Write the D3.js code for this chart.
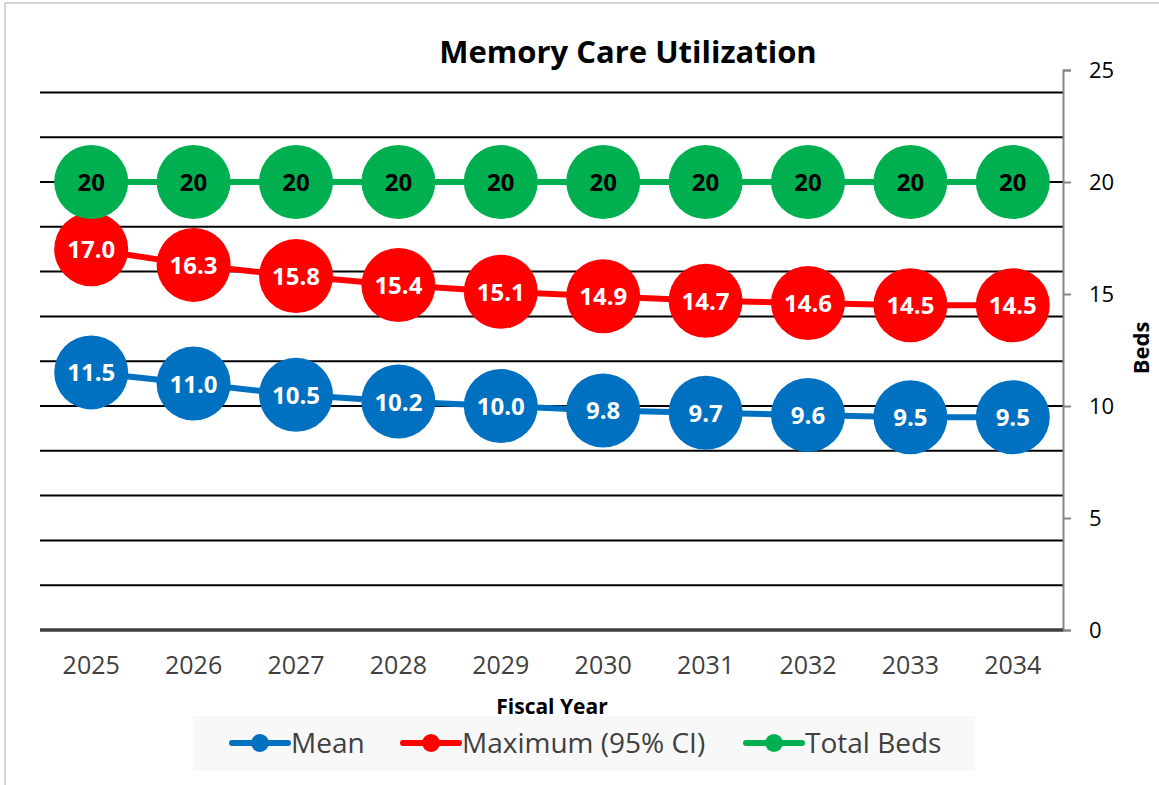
<!DOCTYPE html>
<html>
<head>
<meta charset="utf-8">
<script src="https://cdn.jsdelivr.net/npm/d3@7"></script>
<style>
  body { margin: 0; background: #fff; }
  svg { display: block; font-family: "Open Sans", sans-serif; }
</style>
</head>
<body>
<script>
let width = 1159
let height = 785

// data
let years = ['2025', '2026', '2027', '2028', '2029', '2030', '2031', '2032', '2033', '2034']
let meanBeds = [11.5, 11.0, 10.5, 10.2, 10.0, 9.8, 9.7, 9.6, 9.5, 9.5]
let maxBeds = [17.0, 16.3, 15.8, 15.4, 15.1, 14.9, 14.7, 14.6, 14.5, 14.5]
let totalBeds = [20, 20, 20, 20, 20, 20, 20, 20, 20, 20]
let yTicks = [0, 5, 10, 15, 20, 25]
let gridTicks = [2, 4, 6, 8, 10, 12, 14, 16, 18, 20, 22, 24]

let series = [
  { name: 'Mean', values: meanBeds, color: '#0070C0', text: '#fff', fmt: d3.format('.1f') },
  { name: 'Maximum (95% CI)', values: maxBeds, color: '#FF0000', text: '#fff', fmt: d3.format('.1f') },
  { name: 'Total Beds', values: totalBeds, color: '#00B050', text: '#000', fmt: d3.format('d') }
]

let svg = d3.select('body').append('svg')
  .attr('width', width)
  .attr('height', height)

// outer chart border
svg.append('rect')
  .attr('x', 5).attr('y', 3)
  .attr('width', width + 10).attr('height', height + 10)
  .attr('fill', '#fff')
  .attr('stroke', '#c8c8c8')
  .attr('stroke-width', 1.5)

//scales
let xScale = d3.scaleBand().domain(years).range([40, 1064])
let yScale = d3.scaleLinear().domain([0, 25]).range([630, 70])
let cx = d => xScale(d) + xScale.bandwidth() / 2

// gridlines
svg.append('g')
  .selectAll('line')
  .data(gridTicks)
  .enter()
  .append('line')
  .attr('x1', 40).attr('x2', 1063)
  .attr('y1', d => yScale(d)).attr('y2', d => yScale(d))
  .attr('stroke', '#000')
  .attr('stroke-width', 2)

// right axis
let yAxis = svg.append('g')
  .attr('transform', 'translate(1063,0)')
  .call(d3.axisRight(yScale).tickValues(yTicks).tickSize(8).tickPadding(18))
yAxis.select('.domain').attr('stroke', '#868686').attr('stroke-width', 2)
yAxis.selectAll('.tick line').attr('stroke', '#868686').attr('stroke-width', 2)
yAxis.selectAll('.tick text')
  .attr('font-size', 22)
  .attr('fill', '#000')
  .attr('dy', '0.35em')
  .attr('font-family', '"Open Sans", sans-serif')

// bottom axis line
svg.append('line')
  .attr('x1', 40).attr('x2', 1063)
  .attr('y1', yScale(0)).attr('y2', yScale(0))
  .attr('stroke', '#404040')
  .attr('stroke-width', 3.5)

// x labels
svg.append('g')
  .selectAll('text')
  .data(years)
  .enter()
  .append('text')
  .attr('x', d => cx(d))
  .attr('y', 674)
  .attr('text-anchor', 'middle')
  .attr('font-size', 25)
  .attr('fill', '#404040')
  .text(d => d)

// titles
svg.append('text')
  .attr('x', 628).attr('y', 63)
  .attr('text-anchor', 'middle')
  .attr('font-size', 31)
  .attr('font-weight', 'bold')
  .text('Memory Care Utilization')

svg.append('text')
  .attr('x', 552).attr('y', 714)
  .attr('text-anchor', 'middle')
  .attr('font-size', 21)
  .attr('font-weight', 'bold')
  .text('Fiscal Year')

svg.append('text')
  .attr('transform', 'translate(1149,348) rotate(-90)')
  .attr('text-anchor', 'middle')
  .attr('font-size', 22)
  .attr('font-weight', 'bold')
  .text('Beds')

// lines + markers
let line = d3.line().x((d, i) => cx(years[i])).y(d => yScale(d))

series.forEach(s => {
  let g = svg.append('g')
  g.append('path')
    .datum(s.values)
    .attr('d', line)
    .attr('fill', 'none')
    .attr('stroke', s.color)
    .attr('stroke-width', 6)
  g.selectAll('circle')
    .data(s.values)
    .enter()
    .append('circle')
    .attr('cx', (d, i) => cx(years[i]))
    .attr('cy', d => yScale(d))
    .attr('r', 37)
    .attr('fill', s.color)
})

// data labels on top
series.forEach(s => {
  svg.append('g')
    .selectAll('text')
    .data(s.values)
    .enter()
    .append('text')
    .attr('x', (d, i) => cx(years[i]))
    .attr('y', d => yScale(d) + 9)
    .attr('text-anchor', 'middle')
    .attr('font-size', 24)
    .attr('font-weight', 'bold')
    .attr('fill', s.text)
    .text(d => s.fmt(d))
})

// legend
svg.append('rect')
  .attr('x', 193).attr('y', 716)
  .attr('width', 782).attr('height', 55)
  .attr('fill', '#f8f8f8')

let legendX = [232, 403, 746]
series.forEach((s, i) => {
  let g = svg.append('g').attr('transform', `translate(${legendX[i]},743)`)
  g.append('line')
    .attr('x1', 0).attr('x2', 56)
    .attr('stroke', s.color)
    .attr('stroke-width', 6)
    .attr('stroke-linecap', 'round')
  g.append('circle')
    .attr('cx', 28).attr('r', 9)
    .attr('fill', s.color)
  g.append('text')
    .attr('x', 59).attr('y', 10)
    .attr('font-size', 28)
    .attr('fill', '#404040')
    .text(s.name)
})
</script>
</body>
</html>
